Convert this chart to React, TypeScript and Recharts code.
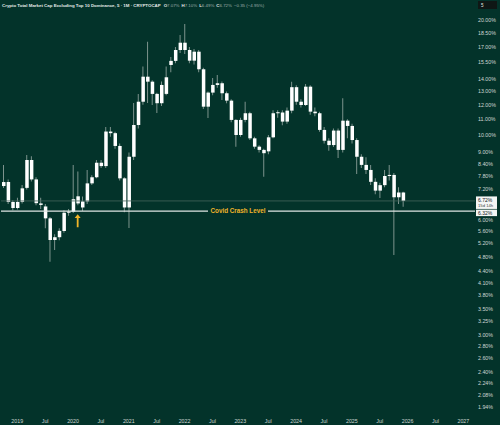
import { Bar, ComposedChart, ReferenceDot, ReferenceLine, XAxis, YAxis } from "recharts";

const BG = "#03332a";
const WICK = "#7d938d";
const GOLD = "#f0b429";
const AXIS_TEXT = "#cfd6d3";
const FONT = "Liberation Sans, Arial, sans-serif";

// monthly candles, Oct 2018 .. Dec 2025 (% dominance)
const FIRST_MONTH = "2018-10";
const MONTH_SLOTS = 102; // runs on to Mar 2027 so the time axis reaches 2027

const opens = [
  7.35, 7.53, 6.68,
  6.44, 6.68, 7.27, 8.6, 7.65, 6.62, 6.5, 6.05, 5.31, 5.4, 5.61, 6.26,
  6.3, 6.62, 6.7, 6.7, 7.47, 7.75, 8.46, 8.29, 10.21, 10.11, 9.36, 7.7,
  6.46, 8.77, 10.62, 12.22, 14.21, 13.79, 12.81, 12.11, 12.81, 15.25, 15.63, 16.69,
  17.44, 16.69, 15.65, 16.52, 14.86, 11.86, 12.91, 13.52, 13.66, 12.86, 12.3, 10.95,
  10.0, 10.95, 11.4, 9.8, 9.32, 9.14, 9.06, 9.86, 11.4, 11.45, 10.84, 11.58,
  13.34, 12.22, 11.98, 13.38, 11.51, 11.4, 10.31, 9.66, 9.41, 10.27, 9.14, 10.9,
  10.56, 9.7, 8.77, 8.35, 8.1, 7.54, 7.15, 7.39, 7.81, 7.86, 6.87, 7.07,
];
const highs = [
  8.35, 7.65, 6.75,
  6.85, 7.4, 8.87, 8.8, 7.75, 6.85, 6.6, 6.1, 5.5, 5.7, 6.35, 6.4,
  8.35, 8.02, 6.9, 8.1, 7.85, 8.6, 8.6, 10.5, 10.5, 10.2, 9.5, 7.75,
  9.0, 12.13, 12.8, 15.1, 17.55, 13.9, 12.9, 13.8, 15.1, 16.0, 17.0, 18.27,
  19.52, 17.0, 16.8, 16.7, 15.0, 13.0, 14.1, 14.36, 13.8, 13.0, 12.4, 11.0,
  11.1, 12.22, 11.5, 9.9, 9.4, 9.2, 10.0, 11.6, 11.6, 11.6, 11.8, 13.79,
  13.5, 12.4, 13.6, 13.5, 11.8, 11.5, 10.5, 9.8, 10.4, 10.4, 12.48, 11.0,
  10.7, 9.8, 8.9, 8.75, 8.35, 7.7, 7.5, 8.1, 8.35, 7.95, 7.3, 7.1,
];
const lows = [
  7.26, 6.6, 6.35,
  6.38, 6.62, 7.2, 7.55, 6.55, 6.4, 5.7, 4.66, 5.0, 5.3, 5.55, 6.15,
  6.25, 6.55, 6.32, 6.6, 7.4, 7.7, 8.2, 8.2, 9.9, 9.2, 7.6, 6.28,
  5.71, 8.6, 10.4, 12.0, 12.13, 11.98, 11.42, 11.9, 12.7, 14.6, 15.4, 16.4,
  16.3, 15.4, 15.3, 14.6, 11.7, 11.08, 12.7, 13.3, 12.35, 12.1, 10.8, 9.32,
  9.9, 10.8, 9.7, 9.2, 9.0, 7.77, 8.9, 9.8, 11.1, 10.6, 10.7, 11.4,
  12.0, 11.8, 11.9, 11.3, 11.2, 10.2, 9.5, 9.1, 9.3, 8.7, 9.0, 9.8,
  9.5, 7.9, 8.2, 7.9, 7.4, 7.0, 6.84, 7.3, 7.6, 4.85, 6.6, 6.49,
];
const closes = [
  7.53, 6.68, 6.44,
  6.68, 7.25, 8.6, 7.65, 6.63, 6.56, 6.05, 5.31, 5.4, 5.61, 6.26, 6.3,
  6.79, 6.91, 6.46, 7.47, 7.75, 8.46, 8.29, 10.21, 10.11, 9.36, 7.7, 6.46,
  8.77, 10.62, 12.22, 14.21, 13.79, 12.81, 12.11, 13.52, 14.16, 15.63, 16.69, 17.44,
  16.69, 15.65, 16.52, 14.86, 11.86, 12.91, 13.52, 13.66, 12.86, 12.3, 10.95, 10.0,
  10.95, 11.4, 9.8, 9.32, 9.14, 8.96, 9.86, 11.4, 11.45, 10.84, 11.58, 13.34,
  12.22, 11.98, 13.38, 11.51, 11.4, 10.31, 9.66, 9.41, 10.27, 9.14, 10.9, 10.56,
  9.7, 8.77, 8.35, 8.1, 7.54, 7.15, 7.39, 7.81, 7.86, 6.87, 7.07, 6.72,
];

const Y_TICKS = [
  20, 18.5, 17, 15.5, 14, 13, 12, 11, 10, 9, 8.4, 7.8, 7.2, 6.0, 5.6, 5.2, 4.8, 4.4, 4.1,
  3.8, 3.5, 3.25, 3.0, 2.8, 2.6, 2.4, 2.24, 2.08, 1.94,
];
const X_TICKS = [
  "2019-01", "2019-07", "2020-01", "2020-07", "2021-01", "2021-07", "2022-01", "2022-07",
  "2023-01", "2023-07", "2024-01", "2024-07", "2025-01", "2025-07", "2026-01", "2026-07",
  "2027-01",
];

const COVID_LEVEL = 6.32;
const ARROW_MONTH = "2020-02";
const ARROW_LEVEL = 6.0;
const COUNTDOWN = "15d 14h";

function monthKeys(first: string, count: number) {
  const [y0, m0] = first.split("-").map(Number);
  const keys: string[] = [];
  for (let i = 0; i < count; i++) {
    const t = y0 * 12 + (m0 - 1) + i;
    keys.push(`${Math.floor(t / 12)}-${String((t % 12) + 1).padStart(2, "0")}`);
  }
  return keys;
}

const data = monthKeys(FIRST_MONTH, MONTH_SLOTS).map((m, i) => {
  if (i >= closes.length) return { m };
  const o = opens[i];
  const c = closes[i];
  return { m, wick: [lows[i], highs[i]], body: [Math.min(o, c), Math.max(o, c)] };
});

const last = closes.length - 1;
const lastClose = closes[last];
const change = lastClose - closes[last - 1];
const pct = (v: number) => `${v.toFixed(2)}%`;

function CovidLabel(props: any) {
  const vb = props.viewBox ?? {};
  const x = vb.x ?? 0;
  const y = vb.y ?? 0;
  const w = vb.width ?? 0;
  const cx = x + w / 2;
  return (
    <g>
      <rect x={cx - 30} y={y - 3} width={60} height={6} fill={BG} />
      <text x={cx} y={y} dy="0.35em" textAnchor="middle" fontSize={6.3} fontWeight="bold" fill={GOLD} fontFamily={FONT}>
        Covid Crash Level
      </text>
      <rect x={x + w + 1} y={y - 1.5} width={21} height={6.5} fill="#f4f6f5" />
      <text x={x + w + 3} y={y + 1.7} dy="0.35em" fontSize={5} fill="#131722" fontFamily={FONT}>
        {pct(COVID_LEVEL)}
      </text>
    </g>
  );
}

function LastPriceLabel(props: any) {
  const vb = props.viewBox ?? {};
  const x = (vb.x ?? 0) + (vb.width ?? 0);
  const y = vb.y ?? 0;
  return (
    <g fontFamily={FONT}>
      <rect x={x + 1} y={y - 4.5} width={21} height={12.5} fill="#f4f6f5" />
      <text x={x + 3} y={y - 0.8} dy="0.35em" fontSize={5} fill="#131722">
        {pct(lastClose)}
      </text>
      <text x={x + 3} y={y + 4.8} dy="0.35em" fontSize={4.2} fill="#3b4442">
        {COUNTDOWN}
      </text>
    </g>
  );
}

function UpArrow(props: any) {
  const { cx, cy } = props;
  const d = `M${cx} ${cy - 5.5} L${cx + 3} ${cy - 1.8} L${cx + 0.9} ${cy - 1.8} L${cx + 0.9} ${cy + 7.5} L${cx - 0.9} ${cy + 7.5} L${cx - 0.9} ${cy - 1.8} L${cx - 3} ${cy - 1.8} Z`;
  return <path d={d} fill={GOLD} />;
}

export default function App() {
  return (
    <div style={{ position: "fixed", left: 0, top: 0, width: 500, height: 425, background: BG, overflow: "hidden" }}>
      <ComposedChart width={500} height={425} data={data} margin={{ top: 0, right: 0, bottom: 0, left: 1 }}>
        <XAxis
          dataKey="m"
          ticks={X_TICKS}
          interval={0}
          tickFormatter={(m: string) => (m.endsWith("-07") ? "Jul" : m.slice(0, 4))}
          height={13}
          tickSize={0}
          tickMargin={7}
          axisLine={false}
          tickLine={false}
          tick={{ fontSize: 5.3, fill: AXIS_TEXT, fontFamily: FONT }}
        />
        <XAxis xAxisId="w" dataKey="m" hide />
        <YAxis
          orientation="right"
          scale="log"
          domain={[1.883, 22.56]}
          allowDataOverflow
          ticks={Y_TICKS}
          interval={0}
          tickFormatter={(v: number) => pct(v)}
          width={25}
          tickSize={0}
          tickMargin={3}
          axisLine={false}
          tickLine={false}
          tick={{ fontSize: 5.3, fill: AXIS_TEXT, fontFamily: FONT }}
        />
        <Bar xAxisId="w" dataKey="wick" fill={WICK} barSize={1} isAnimationActive={false} />
        <Bar dataKey="body" fill="#ffffff" barSize={3.5} minPointSize={1} isAnimationActive={false} />
        <ReferenceLine y={lastClose} stroke="#46665d" strokeWidth={0.8} label={LastPriceLabel} />
        <ReferenceLine y={COVID_LEVEL} stroke="#dfe6e3" strokeWidth={1.3} label={CovidLabel} />
        <ReferenceDot x={ARROW_MONTH} y={ARROW_LEVEL} r={0} shape={UpArrow} />
      </ComposedChart>
      <svg width={500} height={12} style={{ position: "absolute", left: 0, top: 0 }}>
        <text x={2} y={6.6} fontSize={4.4} fontFamily={FONT} fill="#e6ebe9" fontWeight="bold">
          Crypto Total Market Cap Excluding Top 10 Dominance, 5 · 1M · CRYPTOCAP
          <tspan dx={3}>O</tspan>
          <tspan fill="#9fb0aa" fontWeight="normal">{pct(opens[last])}</tspan>
          <tspan dx={2}>H</tspan>
          <tspan fill="#9fb0aa" fontWeight="normal">{pct(highs[last])}</tspan>
          <tspan dx={2}>L</tspan>
          <tspan fill="#9fb0aa" fontWeight="normal">{pct(lows[last])}</tspan>
          <tspan dx={2}>C</tspan>
          <tspan fill="#9fb0aa" fontWeight="normal">{pct(lastClose)}</tspan>
          <tspan dx={2} fill="#9fb0aa" fontWeight="normal">
            {`${change < 0 ? "−" : "+"}${Math.abs(change).toFixed(2)} (${change < 0 ? "−" : "+"}${Math.abs((change / closes[last - 1]) * 100).toFixed(2)}%)`}
          </tspan>
        </text>
        <rect x={478} y={1} width={19} height={8} fill="#0f1715" />
        <text x={481} y={7} fontSize={4.5} fontFamily={FONT} fill="#e6ebe9">5</text>
      </svg>
    </div>
  );
}
